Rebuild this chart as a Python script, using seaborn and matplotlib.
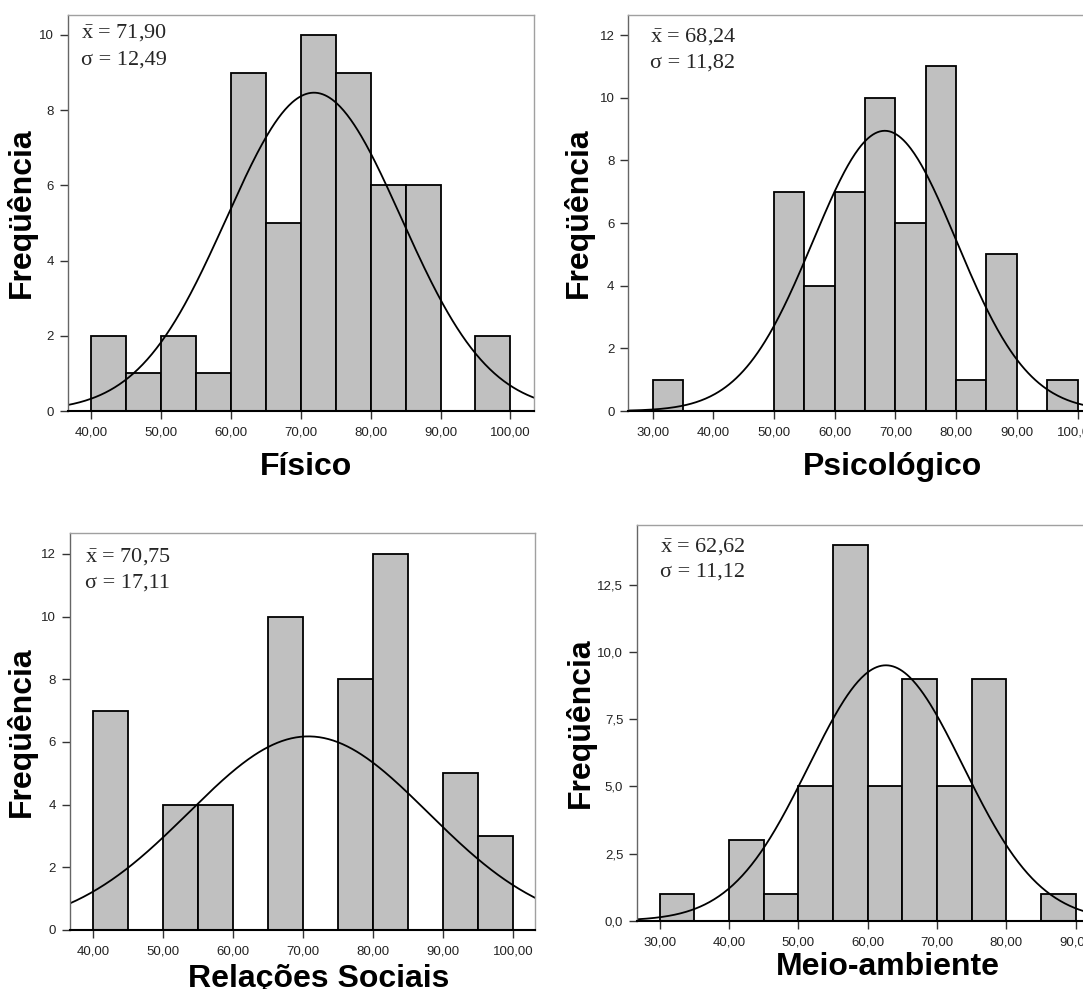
import numpy as np
import pandas as pd
import matplotlib
matplotlib.use("Agg")
import matplotlib.pyplot as plt
import seaborn as sns
from matplotlib.ticker import FixedLocator, FuncFormatter

sns.set_style("white")
plt.rcParams["font.family"] = ["Liberation Sans", "DejaVu Sans"]
plt.rcParams["mathtext.fontset"] = "custom"
plt.rcParams["mathtext.rm"] = "Liberation Serif"
plt.rcParams["mathtext.it"] = "Liberation Serif:italic"

# ---------------- data ----------------
bin_width = 5
fisico_start = 40
fisico_counts = [2, 1, 2, 1, 9, 5, 10, 9, 6, 6, 0, 2]
psico_start = 30
psico_counts = [1, 0, 0, 0, 7, 4, 7, 10, 6, 11, 1, 5, 0, 1]
social_start = 40
social_counts = [7, 0, 4, 4, 0, 10, 0, 8, 12, 0, 5, 3]
ambiente_start = 30
ambiente_counts = [1, 0, 3, 1, 5, 14, 5, 9, 5, 9, 0, 1]

titles = ["Físico", "Psicológico", "Relações Sociais", "Meio-ambiente"]
means = [71.90, 68.24, 70.75, 62.62]
sds = [12.49, 11.82, 17.11, 11.12]
mean_labels = ["71,90", "68,24", "70,75", "62,62"]
sd_labels = ["12,49", "11,82", "17,11", "11,12"]

xticks_1 = [40, 50, 60, 70, 80, 90, 100]
xticks_2 = [30, 40, 50, 60, 70, 80, 90, 100]
xticks_3 = [40, 50, 60, 70, 80, 90, 100]
xticks_4 = [30, 40, 50, 60, 70, 80, 90]
yticks_1 = [0, 2, 4, 6, 8, 10]
yticks_2 = [0, 2, 4, 6, 8, 10, 12]
yticks_3 = [0, 2, 4, 6, 8, 10, 12]
yticks_4 = [0, 2.5, 5.0, 7.5, 10.0, 12.5]

starts = [fisico_start, psico_start, social_start, ambiente_start]
counts_all = [fisico_counts, psico_counts, social_counts, ambiente_counts]
xticks_all = [xticks_1, xticks_2, xticks_3, xticks_4]
yticks_all = [yticks_1, yticks_2, yticks_3, yticks_4]
ytick_fmt = ["{:.0f}", "{:.0f}", "{:.0f}", "{:.1f}"]

# ---------------- layout (pixels) ----------------
W, H = 1083, 989
# left, top, right, bottom
boxes = [(67.8, 15, 534.2, 411), (628.4, 15, 1101.8, 411),
         (69.5, 533.3, 535.3, 930), (637.1, 525, 1103.5, 920.7)]
xlims = [(36.7, 103.4), (26.0, 104.0), (36.6, 103.2), (26.74, 94.0)]
ylims = [(0, 10.53), (0, 12.64), (0, 12.66), (0, 14.73)]
ylabel_x = [-0.067, -0.073, -0.071, -0.089]
xlabel_pos = [(0.511, -0.103), (0.558, -0.103), (0.534, -0.086), (0.537, -0.079)]
annot_pos = [((81, 33), (81, 60)), ((650, 37), (650, 63)),
             ((85, 557), (85, 583)), ((660, 547), (660, 572))]

fig = plt.figure(figsize=(W / 100, H / 100), dpi=100)
fig.patch.set_facecolor("white")

for i in range(4):
    l, t, r, b = boxes[i]
    ax = fig.add_axes([l / W, 1 - b / H, (r - l) / W, (b - t) / H])
    counts = [float(c) for c in counts_all[i]]
    edges = [starts[i] + bin_width * k for k in range(len(counts) + 1)]
    centers = [e + bin_width / 2 for e in edges[:-1]]
    df = pd.DataFrame({"x": centers, "n": counts})
    sns.histplot(data=df, x="x", weights="n", bins=edges, ax=ax,
                 color="#c0c0c0", edgecolor="black", linewidth=1.3,
                 alpha=1, stat="count")
    # fitted normal curve
    N = sum(counts)
    xs = np.linspace(xlims[i][0], xlims[i][1], 400)
    ys = N * bin_width / (sds[i] * np.sqrt(2 * np.pi)) * np.exp(-0.5 * ((xs - means[i]) / sds[i]) ** 2)
    sns.lineplot(x=xs, y=ys, ax=ax, color="black", linewidth=1.3)

    ax.set_xlim(*xlims[i])
    ax.set_ylim(*ylims[i])
    ax.xaxis.set_major_locator(FixedLocator(xticks_all[i]))
    ax.yaxis.set_major_locator(FixedLocator(yticks_all[i]))
    ax.xaxis.set_major_formatter(FuncFormatter(lambda v, p: f"{v:.2f}".replace(".", ",")))
    fmt = ytick_fmt[i]
    ax.yaxis.set_major_formatter(FuncFormatter(lambda v, p, fmt=fmt: fmt.format(v).replace(".", ",")))
    ax.tick_params(axis="both", which="major", direction="out", length=5.5, width=1,
                   color="#333333", labelcolor="#222222", labelsize=9.5,
                   bottom=True, left=True)
    ax.tick_params(axis="x", pad=6)
    ax.tick_params(axis="y", pad=4.5)
    for s in ["top", "right"]:
        ax.spines[s].set_color("#a0a0a0")
        ax.spines[s].set_linewidth(1.0)
    ax.spines["left"].set_color("#666666")
    ax.spines["left"].set_linewidth(1.0)
    ax.spines["bottom"].set_color("black")
    ax.spines["bottom"].set_linewidth(1.5)
    ax.grid(False)

    ax.set_ylabel("Freqüência", fontsize=23, fontweight="bold", color="black")
    ax.yaxis.set_label_coords(ylabel_x[i], 0.5)
    ax.set_xlabel(titles[i], fontsize=23, fontweight="bold", color="black")
    ax.xaxis.set_label_coords(*xlabel_pos[i])

    (mx, my), (sx, sy) = annot_pos[i]
    fig.text(mx / W, 1 - my / H, r"$\bar{\mathrm{x}}$" + " = " + mean_labels[i],
             family="Liberation Serif", fontsize=16, va="center", ha="left")
    fig.text(sx / W, 1 - sy / H, "σ = " + sd_labels[i],
             family="Liberation Serif", fontsize=16, va="center", ha="left")

fig.savefig("out.png", dpi=100, facecolor="white")
